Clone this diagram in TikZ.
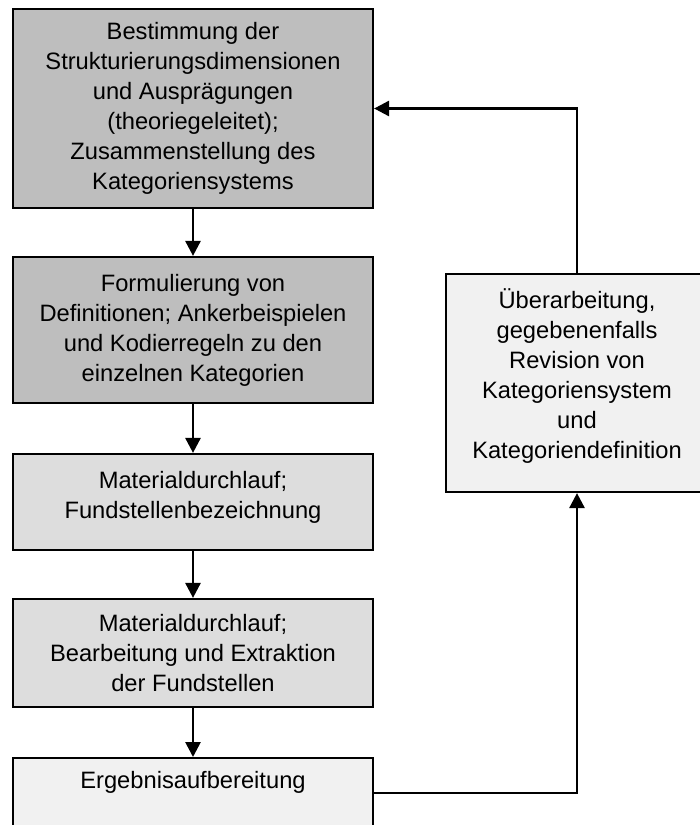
\documentclass[tikz,border=0pt]{standalone}
\usepackage{fontspec}
\setmainfont{Liberation Sans}
\usetikzlibrary{arrows.meta}
\definecolor{dark}{HTML}{BEBEBE}
\definecolor{mid}{HTML}{DDDDDD}
\definecolor{light}{HTML}{F1F1F1}
\begin{document}
\begin{tikzpicture}[x=1pt,y=-1pt,
  box/.style={draw=black, line width=2.2pt, rectangle, inner sep=0pt, align=center,
    font=\fontsize{23.7}{30}\selectfont, minimum width=360pt},
  txt/.style={inner sep=0pt, align=center, font=\fontsize{23.7}{30}\selectfont},
  conn/.style={draw=black, line width=2.7pt},
  arr/.style={conn, -{Triangle[width=15pt,length=15pt]}}]
\useasboundingbox (0,0) rectangle (700,825);
\clip (0,0) rectangle (700,825);
\node[box, fill=dark, minimum height=199pt] (b1) at (193,108.5) {Bestimmung der\\Strukturierungsdimensionen\\und Ausprägungen\\(theoriegeleitet);\\Zusammenstellung des\\Kategoriensystems};
\node[box, fill=dark, minimum height=146pt] (b2) at (193,330) {Formulierung von\\Definitionen; Ankerbeispielen\\und Kodierregeln zu den\\einzelnen Kategorien};
\node[box, fill=mid, minimum height=96pt] (b3) at (193,502) {};
\node[txt] (b3t) at (193,497.5) {Materialdurchlauf;\\Fundstellenbezeichnung};
\node[box, fill=mid, minimum height=108pt] (b4) at (193,653) {Materialdurchlauf;\\Bearbeitung und Extraktion\\der Fundstellen};
\node[box, fill=light, minimum height=100pt, anchor=north] (b5) at (193,757) {};
\node[txt] (b5t) at (193,782) {Ergebnisaufbereitung};
\node[box, fill=light, minimum width=270pt, minimum height=218pt] (rev) at (581,383) {};
\node[txt] (revt) at (577,376) {Überarbeitung,\\gegebenenfalls\\Revision von\\Kategoriensystem\\und\\Kategoriendefinition};
\coordinate (tr) at (577,108.5);
\coordinate (br) at (577,793);
\draw[arr] (b1) -- (b2);
\draw[arr] (b2) -- (b3);
\draw[arr] (b3) -- (b4);
\draw[arr] (b4) -- (b5);
\draw[arr] (rev.north -| tr) -- (tr) -- (b1.east);
\draw[arr] (b5.east |- br) -- (br) -- (rev.south -| br);
\end{tikzpicture}
\end{document}
